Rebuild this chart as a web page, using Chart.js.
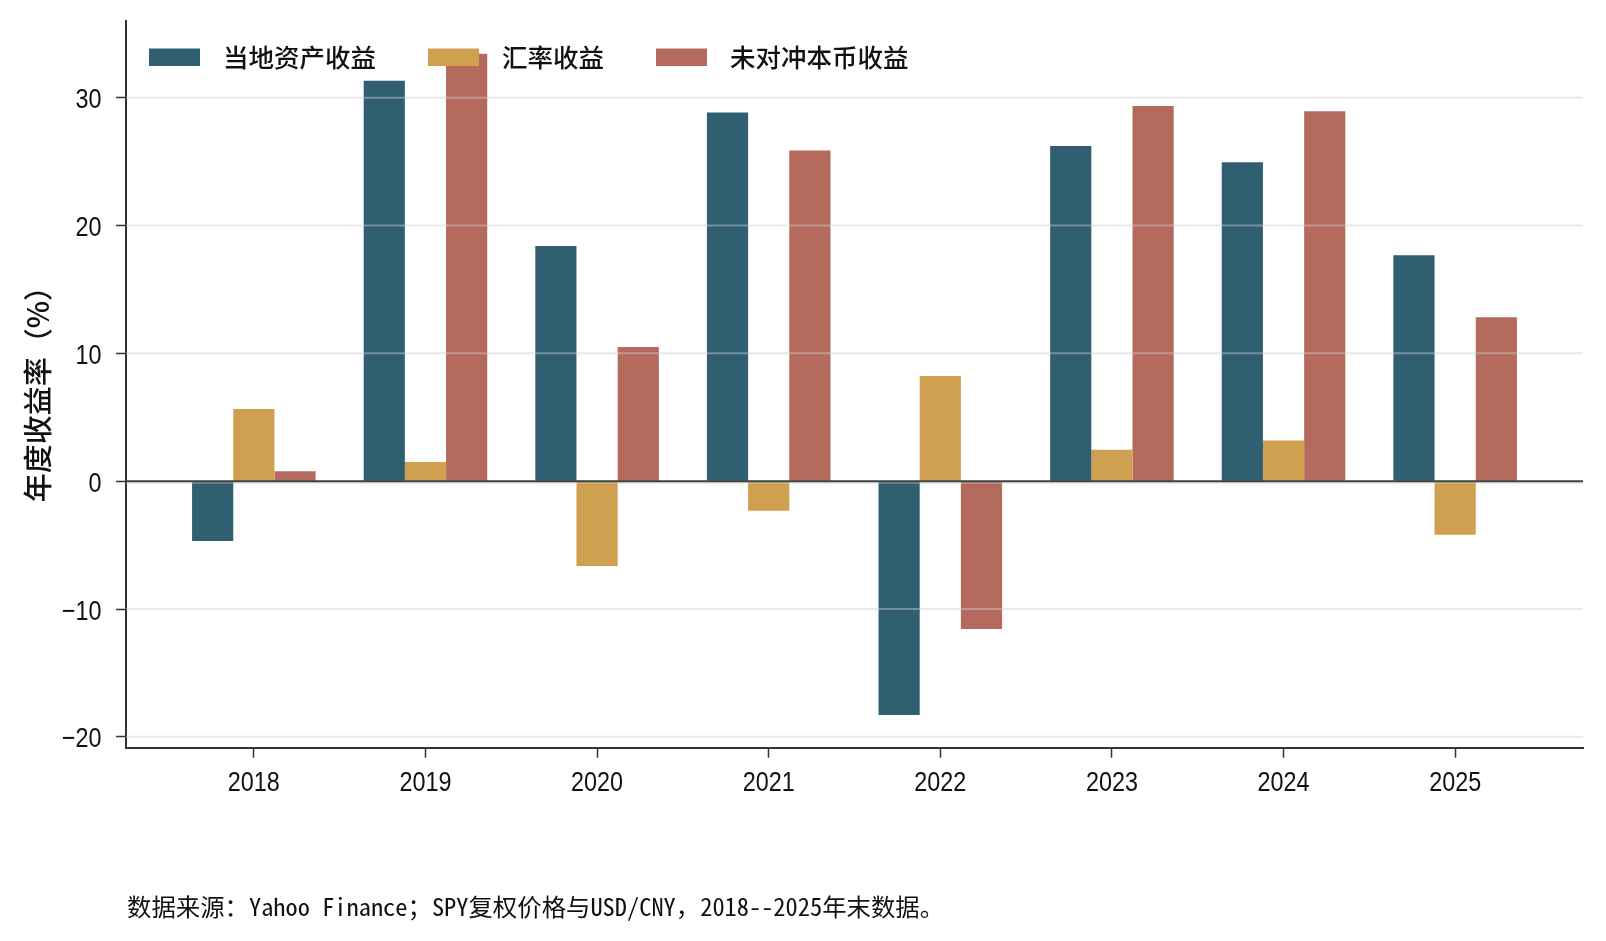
<!DOCTYPE html>
<html lang="zh-CN">
<head>
<meta charset="utf-8">
<title>年度收益率</title>
<script src="https://cdn.jsdelivr.net/npm/chart.js@4/dist/chart.umd.min.js"></script>
<style>
  html, body { margin: 0; padding: 0; background: #fff; }
  canvas { display: block; }
</style>
</head>
<body>
<canvas id="chart" width="1606" height="941"></canvas>
<script>
// 年份 (x 轴类别)
const years = ["2018", "2019", "2020", "2021", "2022", "2023", "2024", "2025"]
// 三组收益率 (%)
const localReturn = [-4.67, 31.32, 18.39, 28.84, -18.3, 26.22, 24.96, 17.68]
const fxReturn = [5.64, 1.5, -6.63, -2.32, 8.22, 2.46, 3.18, -4.2]
const unhedgedReturn = [0.78, 33.44, 10.49, 25.87, -11.57, 29.35, 28.95, 12.83]
// y 轴刻度
const yTicks = [-20, -10, 0, 10, 20, 30]

const seriesNames = ["当地资产收益", "汇率收益", "未对冲本币收益"]
const colors = ["#2f5f70", "#cfa050", "#b46b5e"]

const cjkFont = '"Noto Sans CJK SC", "Noto Sans CJK JP", sans-serif'
const tickFont = '"Liberation Sans", Arial, sans-serif'
const noteFont = '"Noto Sans Mono CJK SC", "DejaVu Sans Mono", "Noto Sans CJK SC", monospace'

// 把数组变成线性 x 轴上的点
function toPoints(values) {
    return values.map((v, i) => ({ x: i, y: v }))
}

function yLabel(v) {
    return v < 0 ? "\u2212" + Math.abs(v) : String(v)
}

// 窄体字: 横向压缩后画文字
function narrowText(ctx, text, x, y, align) {
    ctx.save()
    ctx.translate(x, y)
    ctx.scale(0.835, 1)
    ctx.textAlign = align
    ctx.fillText(text, 0, 0)
    ctx.restore()
}

// 网格线和零线画在柱子上面 (原图就是这样)
const gridOverlay = {
    id: "gridOverlay",
    afterDatasetsDraw(chart) {
        const { ctx, chartArea, scales } = chart
        ctx.save()
        ctx.lineWidth = 2
        ctx.strokeStyle = "rgba(205, 205, 205, 0.45)"
        for (const t of yTicks) {
            const py = scales.y.getPixelForValue(t) + (t === 0 ? 1.5 : 0)
            ctx.beginPath()
            ctx.moveTo(chartArea.left, py)
            ctx.lineTo(chartArea.right, py)
            ctx.stroke()
        }
        // 零线
        const zero = scales.y.getPixelForValue(0)
        ctx.strokeStyle = "#404040"
        ctx.lineWidth = 2
        ctx.beginPath()
        ctx.moveTo(chartArea.left, zero)
        ctx.lineTo(chartArea.right, zero)
        ctx.stroke()
        ctx.restore()
    }
}

// 刻度文字、图例、y 轴标题、脚注
const extras = {
    id: "extras",
    afterDraw(chart) {
        const { ctx, chartArea, scales } = chart
        ctx.save()
        ctx.fillStyle = "#111"

        // 刻度文字
        ctx.font = "28px " + tickFont
        ctx.textBaseline = "alphabetic"
        years.forEach((y, i) => {
            narrowText(ctx, y, scales.x.getPixelForValue(i), 790.5, "center")
        })
        for (const t of yTicks) {
            narrowText(ctx, yLabel(t), 101.5, scales.y.getPixelForValue(t) + 10.5, "right")
        }

        // 图例 (在坐标区内部, 无背景)
        ctx.font = "500 25.5px " + cjkFont
        ctx.textBaseline = "middle"
        ctx.textAlign = "left"
        let x = 149
        for (let i = 0; i < seriesNames.length; i++) {
            ctx.fillStyle = colors[i]
            ctx.fillRect(x, 48.5, 51, 17.5)
            x += 51 + 23
            ctx.fillStyle = "#111"
            ctx.fillText(seriesNames[i], x, 57)
            x += ctx.measureText(seriesNames[i]).width + 52
        }

        // y 轴标题
        ctx.save()
        ctx.translate(38, (chartArea.top + chartArea.bottom) / 2 + 3)
        ctx.rotate(-Math.PI / 2)
        ctx.textAlign = "center"
        ctx.fillStyle = "#111"
        ctx.font = "500 29px " + cjkFont
        ctx.fillText("年度收益率（%）", 0, 0)
        ctx.restore()

        // 脚注
        ctx.font = "24.4px " + noteFont
        ctx.fillStyle = "#111"
        ctx.textAlign = "left"
        ctx.fillText("数据来源：Yahoo Finance；SPY复权价格与USD/CNY，2018--2025年末数据。", 127, 907)
        ctx.restore()
    }
}

const chartData = {
    datasets: [
        { label: seriesNames[0], data: toPoints(localReturn), backgroundColor: colors[0] },
        { label: seriesNames[1], data: toPoints(fxReturn), backgroundColor: colors[1] },
        { label: seriesNames[2], data: toPoints(unhedgedReturn), backgroundColor: colors[2] }
    ]
}

const chartConfig = {
    type: "bar",
    data: chartData,
    options: {
        responsive: false,
        animation: false,
        devicePixelRatio: 1,
        categoryPercentage: 0.72,
        barPercentage: 1.0,
        layout: { padding: { left: 0, top: 20.5, right: 23, bottom: 133.3 } },
        plugins: {
            legend: { display: false },
            tooltip: { enabled: false }
        },
        scales: {
            x: {
                type: "linear",
                min: -0.745,
                max: 7.745,
                offset: false,
                afterBuildTicks: (scale) => { scale.ticks = years.map((_, i) => ({ value: i })) },
                afterFit: (scale) => {
                    scale.height = 60
                    scale.paddingLeft = 0
                    scale.paddingRight = 0
                },
                ticks: { display: false },
                grid: {
                    offset: false,
                    drawOnChartArea: false,
                    tickLength: 10,
                    tickColor: "#333",
                    tickWidth: 1.5
                },
                border: { color: "#333", width: 2 }
            },
            y: {
                min: -20.85,
                max: 36.04,
                afterBuildTicks: (scale) => { scale.ticks = yTicks.map((v) => ({ value: v })) },
                afterFit: (scale) => {
                    scale.width = 126
                    scale.paddingTop = 0
                    scale.paddingBottom = 0
                },
                ticks: { display: false },
                grid: {
                    offset: false,
                    drawOnChartArea: false,
                    tickLength: 10,
                    tickColor: "#333",
                    tickWidth: 1.5
                },
                border: { color: "#333", width: 2 }
            }
        }
    },
    plugins: [gridOverlay, extras]
}

new Chart(document.getElementById("chart"), chartConfig)
</script>
</body>
</html>
